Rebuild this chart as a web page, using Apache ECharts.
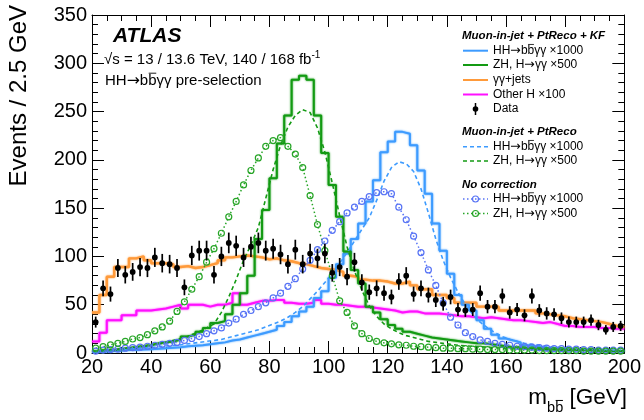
<!DOCTYPE html>
<html><head><meta charset="utf-8">
<script src="https://cdn.jsdelivr.net/npm/echarts@6/dist/echarts.min.js"></script>
<style>html,body{margin:0;padding:0;background:#fff}#c{width:644px;height:420px}</style>
</head><body><div id="c"></div>
<script>
// ---- binning ----
const X_MIN = 20, X_MAX = 200, BIN_W = 2.5;
const X_TICKS = [20, 40, 60, 80, 100, 120, 140, 160, 180, 200];
const Y_TICKS = [0, 50, 100, 150, 200, 250, 300, 350];

// ---- data (events per bin) ----
const DATA = [32,67,61,88,81,84,89,88,99,93,
  92,88,68,101,106,106,81,100,114,111,
  99,110,114,106,108,102,92,107,92,103,
  98,103,83,89,79,94,73,63,67,62,
  58,74,80,61,67,60,55,51,58,45,
  44,45,62,48,48,59,42,45,39,59,
  44,41,40,36,32,32,32,34,29,24,
  27,28];
const DATA_ERR = [5.7,8.2,7.8,9.4,9.0,9.2,9.4,9.4,9.9,9.6,
  9.6,9.4,8.2,10.0,10.3,10.3,9.0,10.0,10.7,10.5,
  9.9,10.5,10.7,10.3,10.4,10.1,9.6,10.3,9.6,10.1,
  9.9,10.1,9.1,9.4,8.9,9.7,8.5,7.9,8.2,7.9,
  7.6,8.6,8.9,7.8,8.2,7.7,7.4,7.1,7.6,6.7,
  6.6,6.7,7.9,6.9,6.9,7.7,6.5,6.7,6.2,7.7,
  6.6,6.4,6.3,6.0,5.7,5.7,5.7,5.8,5.4,4.9,
  5.2,5.3];

// ---- Muon-in-jet + PtReco + KF (histograms) ----
const HH_KF = [1,1.5,2,2.5,3,3,3.5,4,4.5,5,
  5.5,6,7,7.5,8,9,10,11,13,14,
  16,18,20,22,24,28,32,38,43,48,
  57,64,78,92,103,118,134,157,179,208,
  219,229,227,215,189,165,134,106,82,60,
  50,44,34,25,19,15,13,11,8,7,
  6,5,4.5,4,3.5,3,3,2.5,2.5,2,
  2,2];
const ZH_KF = [2,3,3,4,5,6,7,8,10,11,
  12,14,17,19,22,26,31,33,40,50,
  62,80,118,148,181,217,246,283,287,283,
  246,207,174,141,105,86,72,48,42,35,
  29,25,22,20,18,16,15,14,13,12,
  11,10,10,9,8,7,6,6,5,5,
  4,4,4,3,3,3,3,3,2,2,
  2,2];
const GG_JETS = [42,60,79,89,89,98,100,96,93,93,
  92,89,90,88,89,91,93,96,99,100,
  101,100,99,97,98,96,95,93,92,90,
  88,87,86,84,80,79,76,75,75,74,
  72,72,74,70,66,66,60,60,57,52,
  52,52,48,48,48,44,44,44,44,44,
  41,40,39,38,36,35,34,33,32,30,
  28,27];
const OTHER_H = [12,21,34,34,39,39,44,44,45,46,
  48,50,46,50,50,48,50,50,52,62,
  50,52,54,54,55,55,52,51,51,52,
  55,51,50,50,49,48,48,47,46,45,
  44,42,43,43,41,41,41,40,39,38,
  38,37,36,37,36,35,34,34,33,32,
  31,32,30,28,28,27,27,27,26,26,
  25,25];

// ---- Muon-in-jet + PtReco (bin centres) ----
const HH_PT = [2,2.5,3,3.5,4,4.5,5,5.5,6,7,
  7.5,8,9,10,11,12,13,14,16,18,
  20,22,24,27,30,33,37,42,48,56,
  64,73,82,93,104,116,128,140,158,178,
  192,198,196,188,170,145,118,96,78,63,
  50,40,32,26,21,17,14,12,10,9,
  8,7,6,5.5,5,4.5,4,4,3.5,3.5,
  3,3];
const ZH_PT = [2,3,3.5,4,5,6,7,8,9,10,
  12,14,16,19,22,26,30,42,58,76,
  96,112,130,160,190,215,234,246,252,249,
  233,208,176,142,110,85,65,49,38,30,
  25,21,18,16,14,12,11,10,9,8,
  7.5,7,6.5,6,5.5,5,4.5,4.5,4,4,
  3.5,3.5,3.5,3,3,3,3,2.5,2.5,2.5,
  2.5,2.5];

// ---- No correction (bin centres) ----
const HH_NC = [2,3,3.5,4,5,5.5,6,7,8,9,
  10,11,13,15,17,20,23,26,31,35,
  40,44,48,52,57,62,69,77,87,96,
  107,116,127,136,145,151,157,162,166,167,
  165,151,138,121,104,86,70,52,37,29,
  21,17,13.5,12,10,9,8,7,6.5,6,
  5.5,5,4.5,4.5,4,4,3.5,3.5,3,3,
  3,3];
const ZH_NC = [5,6.5,8.5,10,12,14.5,16,19,23,27,
  33,43,53,66,79,94,108,124,141,157,
  174,189,202,214,220,223,214,206,192,163,
  133,106,80,54,42,28,20,15,12,10.5,
  9.5,8.5,8,7,6.5,6,5.5,5,5,4.5,
  4.5,4,4,3.5,3.5,3.5,3,3,3,3,
  2.5,2.5,2.5,2.5,2.5,2.5,2,2,2,2,
  2,2];

// ---- labels ----
const LBL_HH = ['HH', '→', 'bbγγ ×1000'];
const LBL_ZH = ['ZH, H', '→', 'γγ ×500'];
const LBL_GG = 'γγ+jets';
const LBL_OH = 'Other H ×100';
const LBL_DATA = 'Data';
const HDR1 = 'Muon-in-jet + PtReco + KF';
const HDR2 = 'Muon-in-jet + PtReco';
const HDR3 = 'No correction';
const TXT_ATLAS = 'ATLAS';
const TXT_SQRT = '√s = 13 / 13.6 TeV, 140 / 168 fb';
const TXT_SQRT_SUP = '-1';
const TXT_PRESEL = ['HH', '→', 'bbγγ pre-selection'];
const TXT_YTITLE = 'Events / 2.5 GeV';

// ---- styles ----
const C_BLUE = '#3d9bff', C_GREEN = '#139a13', C_ORANGE = '#ff9a3a', C_MAG = '#ff10ff';
const C_BLUE_NC = '#5773f5', C_GREEN_NC = '#27a527';
const FONT = '"Liberation Sans", Arial, Helvetica, sans-serif';
const AFONT = '"DejaVu Sans", sans-serif';
const ASCALE = 1.05;

const mctx = document.createElement('canvas').getContext('2d');
function tw(s, size, weight, style, fam) {
  mctx.font = (style || 'normal') + ' ' + (weight || 'normal') + ' ' + size + 'px ' + (fam || FONT);
  return mctx.measureText(s).width;
}
function hist(vals) {
  const d = vals.map((v, i) => [X_MIN + BIN_W * i, v]);
  d.push([X_MIN + BIN_W * vals.length, vals[vals.length - 1]]);
  return d;
}
function centres(vals) { return vals.map((v, i) => [X_MIN + BIN_W * (i + 0.5), v]); }

function txt(x, y, s, size, o) {
  o = o || {};
  return { type: 'text', x: x, y: y, z: 100, rotation: o.rot || 0,
    style: { text: s, fontSize: size, fontFamily: FONT, fontWeight: o.weight || 'normal',
      fontStyle: o.style || 'normal', fill: '#000',
      align: o.align || 'left', verticalAlign: 'middle',
      textAlign: o.align || 'left', textVerticalAlign: 'middle' } };
}
function overline(x0, w, y, size, lw) {
  const yb = y - 0.52 * size;
  return { type: 'line', z: 100, shape: { x1: x0 + 0.5, y1: yb, x2: x0 + w - 0.3, y2: yb },
    style: { stroke: '#000', lineWidth: lw || 0.9 } };
}
// text made of [before, arrow, after]; optional overline on after[barIdx]
function arrowText(x, y, parts, size, barIdx, lw) {
  const out = [];
  const asz = size * ASCALE;
  out.push({ type: 'text', x: x, y: y, z: 100,
    style: { text: '{a|' + parts[0] + '}{r|' + parts[1] + '}{a|' + parts[2] + '}',
      align: 'left', verticalAlign: 'middle', textAlign: 'left', textVerticalAlign: 'middle',
      rich: { a: { fontSize: size, fontFamily: FONT, fill: '#000', color: '#000' },
              r: { fontSize: asz, fontFamily: AFONT, fill: '#000', color: '#000' } } } });
  if (barIdx !== undefined && barIdx !== null) {
    const x0 = x + tw(parts[0], size) + tw(parts[1], asz, null, null, AFONT) + tw(parts[2].slice(0, barIdx), size);
    out.push(overline(x0, tw(parts[2][barIdx], size), y, size, lw));
  }
  return out;
}

const G = [];
// Top-left labels
G.push(txt(113, 36, TXT_ATLAS, 21, { weight: 'bold', style: 'italic' }));
G.push(txt(104, 60, TXT_SQRT, 15));
G.push(txt(104 + tw(TXT_SQRT, 15), 55, TXT_SQRT_SUP, 10));
arrowText(105, 81, TXT_PRESEL, 15, 1).forEach(e => G.push(e));

// Axis titles
G.push(txt(19, 5, TXT_YTITLE, 24, { rot: Math.PI / 2, align: 'right' }));
const TSZ = 22.5, SSZ = 14.5;
const gevW = tw(' [GeV]', TSZ);
const subW = tw('bb', SSZ);
G.push(txt(627, 398, ' [GeV]', TSZ, { align: 'right' }));
G.push(txt(627 - gevW - subW, 408, 'bb', SSZ));
G.push(overline(627 - gevW - subW + tw('b', SSZ), tw('b', SSZ), 408, SSZ, 1));
G.push(txt(627 - gevW - subW, 398, 'm', TSZ, { align: 'right' }));

// Legend
const LX0 = 463, LX1 = 488, LTX = 493, LFS = 12;
function legLine(y, color, dash, width) {
  return { type: 'line', z: 100, shape: { x1: LX0, y1: y, x2: LX1, y2: y },
    style: { stroke: color, lineWidth: width || 2, lineDash: dash || null } };
}
function legCircle(y, color) {
  return { type: 'circle', z: 101, shape: { cx: (LX0 + LX1) / 2, cy: y, r: 3 },
    style: { fill: 'rgba(0,0,0,0)', stroke: color, lineWidth: 1.2 } };
}
function legHH(y) { arrowText(LTX, y, LBL_HH, LFS, 1, 0.8).forEach(e => G.push(e)); }
function legZH(y) { arrowText(LTX, y, LBL_ZH, LFS).forEach(e => G.push(e)); }
const HFS = 11.5;
G.push(txt(462, 36, HDR1, HFS, { weight: 'bold', style: 'italic' }));
G.push(legLine(50.7, C_BLUE)); legHH(50.7);
G.push(legLine(65, C_GREEN)); legZH(65);
G.push(legLine(80, C_ORANGE)); G.push(txt(LTX, 80, LBL_GG, LFS));
G.push(legLine(94.5, C_MAG)); G.push(txt(LTX, 94.5, LBL_OH, LFS));
G.push({ type: 'line', z: 100, shape: { x1: 475.5, y1: 103, x2: 475.5, y2: 115 }, style: { stroke: '#000', lineWidth: 1.5 } });
G.push({ type: 'circle', z: 101, shape: { cx: 475.5, cy: 109, r: 2.8 }, style: { fill: '#000' } });
G.push(txt(LTX, 109, LBL_DATA, LFS));
G.push(txt(462, 132, HDR2, HFS, { weight: 'bold', style: 'italic' }));
G.push(legLine(146.7, C_BLUE, [4, 3], 1.6)); legHH(146.7);
G.push(legLine(161, C_GREEN, [4, 3], 1.6)); legZH(161);
G.push(txt(462, 184.5, HDR3, HFS, { weight: 'bold', style: 'italic' }));
G.push(legLine(199, C_BLUE_NC, [1.5, 2.5], 1.5)); G.push(legCircle(199, C_BLUE_NC)); legHH(199);
G.push(legLine(213.5, C_GREEN_NC, [1.5, 2.5], 1.5)); G.push(legCircle(213.5, C_GREEN_NC)); legZH(213.5);

// ---- axes ----
const axBlack = { color: '#000', width: 1 };
function xAx(pos, labels) {
  return { type: 'value', min: X_MIN, max: X_MAX, interval: 20, position: pos,
    axisLine: { show: true, onZero: false, lineStyle: axBlack },
    axisTick: { show: true, inside: true, length: 12, lineStyle: axBlack },
    minorTick: { show: true, splitNumber: 4, length: 6, lineStyle: axBlack },
    splitLine: { show: false }, minorSplitLine: { show: false },
    axisLabel: { show: labels, fontSize: 20, color: '#000', fontFamily: FONT, margin: 4,
      formatter: v => (X_TICKS.indexOf(v) >= 0 ? String(v) : '') } };
}
function yAx(pos, labels) {
  return { type: 'value', min: 0, max: 350, interval: 50, position: pos,
    axisLine: { show: true, onZero: false, lineStyle: axBlack },
    axisTick: { show: true, inside: true, length: 12, lineStyle: axBlack },
    minorTick: { show: true, splitNumber: 5, length: 6, lineStyle: axBlack },
    splitLine: { show: false }, minorSplitLine: { show: false },
    axisLabel: { show: labels, fontSize: 20, color: '#000', fontFamily: FONT, margin: 5,
      formatter: v => (Y_TICKS.indexOf(v) >= 0 ? String(v) : '') } };
}

function stepSeries(name, vals, color, z, width) {
  return { name: name, type: 'line', step: 'end', data: hist(vals), symbol: 'none', z: z,
    lineStyle: { color: color, width: width || 2, shadowColor: color, shadowBlur: 2 },
    itemStyle: { color: color }, animation: false, silent: true };
}
function curveSeries(name, vals, color, dash, width, circles, z) {
  return { name: name, type: 'line', data: centres(vals), z: z,
    symbol: circles ? 'circle' : 'none', symbolSize: 6, showAllSymbol: true,
    lineStyle: { color: color, width: width, type: dash },
    itemStyle: { color: 'rgba(0,0,0,0)', borderColor: color, borderWidth: 1.2 },
    animation: false, silent: true };
}

const option = {
  backgroundColor: '#fff',
  animation: false,
  grid: { left: 92, right: 17, top: 15, bottom: 67, containLabel: false },
  xAxis: [xAx('bottom', true), xAx('top', false)],
  yAxis: [yAx('left', true), yAx('right', false)],
  graphic: G,
  series: [
    stepSeries('Other H', OTHER_H, C_MAG, 2),
    stepSeries('gg+jets', GG_JETS, C_ORANGE, 3, 2.4),
    stepSeries('HH KF', HH_KF, C_BLUE, 4),
    stepSeries('ZH KF', ZH_KF, C_GREEN, 5),
    curveSeries('HH PtReco', HH_PT, C_BLUE, [4, 3], 1.6, false, 6),
    curveSeries('ZH PtReco', ZH_PT, C_GREEN, [4, 3], 1.6, false, 6),
    curveSeries('HH NoCorr', HH_NC, C_BLUE_NC, [1.5, 2.5], 1.5, true, 7),
    curveSeries('ZH NoCorr', ZH_NC, C_GREEN_NC, [1.5, 2.5], 1.5, true, 7),
    { name: 'Data', type: 'custom', z: 10, animation: false, clip: true,
      data: DATA.map((v, i) => [X_MIN + BIN_W * (i + 0.5), v, DATA_ERR[i]]),
      encode: { x: 0, y: 1 },
      renderItem: function (params, api) {
        const x = api.value(0), y = api.value(1), e = api.value(2);
        const p = api.coord([x, y]);
        const lo = api.coord([x, y - e]);
        const hi = api.coord([x, y + e]);
        return { type: 'group', children: [
          { type: 'line', shape: { x1: p[0], y1: lo[1], x2: p[0], y2: hi[1] }, style: { stroke: '#000', lineWidth: 1.7 } },
          { type: 'circle', shape: { cx: p[0], cy: p[1], r: 2.9 }, style: { fill: '#000' } }
        ] };
      } }
  ]
};
const chart = echarts.init(document.getElementById('c'), null, { renderer: 'canvas' });
chart.setOption(option);
</script></body></html>
